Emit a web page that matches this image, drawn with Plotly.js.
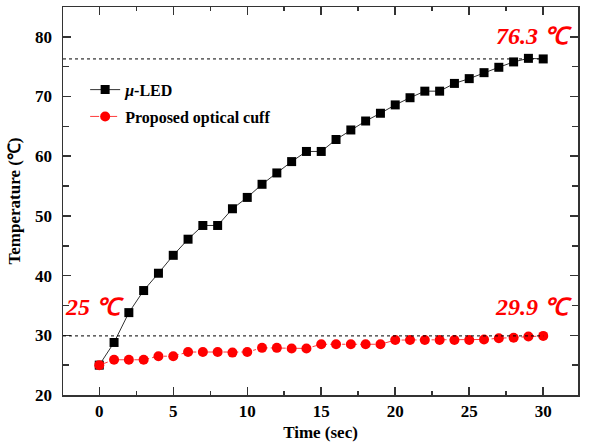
<!DOCTYPE html>
<html>
<head>
<meta charset="utf-8">
<script src="https://cdn.plot.ly/plotly-3.0.1.min.js"></script>
<style>html,body{margin:0;padding:0;background:#fff}#chart{width:592px;height:445px}</style>
</head>
<body>
<div id="chart"></div>
<script>
const timeSec = [0,1,2,3,4,5,6,7,8,9,10,11,12,13,14,15,16,17,18,19,20,21,22,23,24,25,26,27,28,29,30];
const muLED = [25.0,28.8,33.8,37.5,40.4,43.4,46.1,48.4,48.4,51.2,53.1,55.3,57.2,59.1,60.8,60.8,62.8,64.4,65.9,67.2,68.6,69.8,70.9,70.9,72.2,73.0,74.0,74.9,75.8,76.4,76.3];
const cuff = [25.0,25.9,25.9,25.9,26.5,26.5,27.2,27.2,27.2,27.1,27.2,27.9,27.9,27.8,27.8,28.5,28.5,28.5,28.5,28.5,29.2,29.2,29.2,29.2,29.2,29.2,29.3,29.5,29.6,29.8,29.9];
const seriesNames = ['<i>\u03bc</i>-LED', 'Proposed optical cuff'];
const annoTexts = ['76.3 \u2103', '25 \u2103', '29.9 \u2103'];
const xTicks = [0,5,10,15,20,25,30];
const yTicks = [20,30,40,50,60,70,80];

const serif = 'Liberation Serif, Times New Roman, serif';
const xRange = [-2.45, 32.35];
const yRange = [20, 85];
const axisColor = '#333';
const annoFont = {family: serif, size: 24, color: '#ff0000', style: 'italic', weight: 'bold'};

const traces = [
  {x: timeSec, y: muLED, name: seriesNames[0], legendgroup: 'a', type: 'scatter', mode: 'lines+markers',
   line: {color: '#333', width: 1}, marker: {symbol: 'square', size: 9, color: '#000'}},
  {x: timeSec, y: cuff, name: seriesNames[1], legendgroup: 'b', type: 'scatter', mode: 'lines+markers',
   line: {color: '#ff3b3b', width: 1, dash: 'dashdot'}, marker: {symbol: 'circle', size: 10, color: '#ff0000'}}
];

const axisCommon = {
  showline: true, linecolor: axisColor, linewidth: 1.5, mirror: 'ticks',
  ticks: 'inside', ticklen: 8, tickwidth: 1.5, tickcolor: axisColor,
  showgrid: false, zeroline: false,
  tickfont: {family: serif, size: 17, color: '#000', weight: 'bold'}
};

const layout = {
  width: 592, height: 445,
  margin: {l: 63, r: 14, t: 7, b: 50},
  paper_bgcolor: '#fff', plot_bgcolor: '#fff',
  showlegend: true,
  legend: {x: 0.043, y: 0.752, xanchor: 'left', yanchor: 'middle', bgcolor: 'rgba(0,0,0,0)',
           traceorder: 'grouped', tracegroupgap: 3,
           font: {family: serif, size: 16, color: '#000', weight: 'bold'}, itemwidth: 30},
  xaxis: Object.assign({}, axisCommon, {
    range: xRange, tickvals: xTicks,
    minor: {dtick: 2.5, tick0: 0, ticks: 'inside', ticklen: 4, tickcolor: axisColor, tickwidth: 1.5},
    title: {text: 'Time (sec)', font: {family: serif, size: 17, color: '#000', weight: 'bold'}, standoff: 6}
  }),
  yaxis: Object.assign({}, axisCommon, {
    range: yRange, tickvals: yTicks, ticklabelstandoff: 6,
    minor: {dtick: 5, tick0: 0, ticks: 'inside', ticklen: 6, tickcolor: axisColor, tickwidth: 1.5},
    title: {text: 'Temperature (\u2103)', font: {family: serif, size: 17, color: '#000', weight: 'bold'}, standoff: 10}
  }),
  shapes: [
    {type: 'line', xref: 'x', yref: 'y', x0: xRange[0], x1: timeSec[timeSec.length-1],
     y0: muLED[muLED.length-1], y1: muLED[muLED.length-1], line: {color: '#000', width: 1, dash: 'dot'}},
    {type: 'line', xref: 'x', yref: 'y', x0: xRange[0], x1: timeSec[timeSec.length-1],
     y0: cuff[cuff.length-1], y1: cuff[cuff.length-1], line: {color: '#000', width: 1, dash: 'dot'}}
  ],
  annotations: [
    {text: annoTexts[0], xref: 'paper', yref: 'y', x: 0.995, y: muLED[muLED.length-1], xanchor: 'right', yanchor: 'bottom', yshift: 8,
     showarrow: false, font: annoFont},
    {text: annoTexts[1], xref: 'paper', yref: 'y', x: 0.0, y: cuff[cuff.length-1], xanchor: 'left', yanchor: 'bottom', yshift: 14,
     showarrow: false, font: annoFont},
    {text: annoTexts[2], xref: 'paper', yref: 'y', x: 0.995, y: cuff[cuff.length-1], xanchor: 'right', yanchor: 'bottom', yshift: 14,
     showarrow: false, font: annoFont}
  ]
};

Plotly.newPlot('chart', traces, layout, {displayModeBar: false, staticPlot: true});
</script>
</body>
</html>
